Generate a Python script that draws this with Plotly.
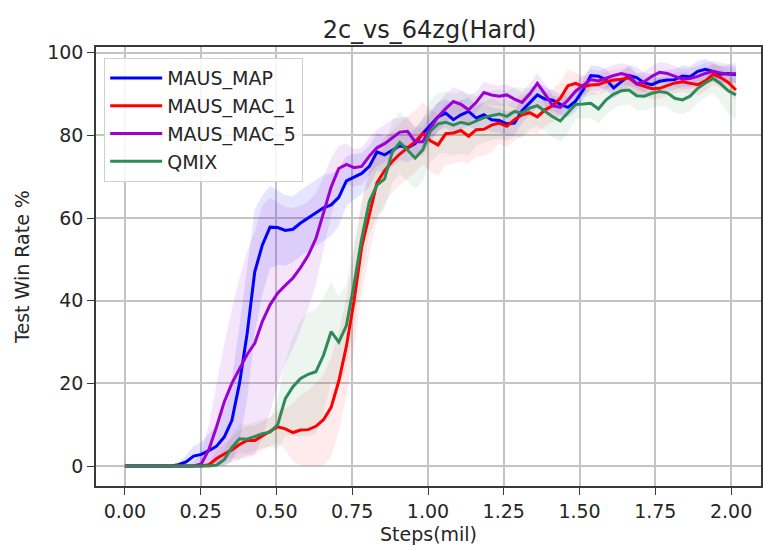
import plotly.graph_objects as go

# x grid (million steps)
steps = [round(i * 0.0252, 4) for i in range(81)]

maus_map = [0, 0, 0, 0, 0, 0, 0, 0.3, 1.0, 2.4, 2.8, 3.7, 4.8, 7, 11, 20, 32, 47, 53.5, 57.8,
            57.7, 57, 57.3, 58.8, 60, 61.2, 62.5, 63.2, 65, 69, 70, 70.8, 72.5, 76, 75.3, 76.5, 77.5, 77, 78, 80.5,
            82.5, 84.5, 85.4, 83.8, 85, 85.8, 84.2, 85, 83.8, 83.6, 82.8, 83, 86, 88, 89.8, 88.8, 88.5, 87.5, 86.8, 88.3,
            91, 94.5, 94.3, 93.5, 91.5, 93, 94.5, 94, 92.7, 92.3, 93.1, 93.4, 93.5, 94.4, 94.2, 95.5, 96, 95.5, 94.8, 95,
            94.7]
maus_map_sd = [0, 0, 0, 0, 0, 0, 0, 0.5, 1.5, 2.5, 3, 4, 5, 7, 10, 14, 16, 15, 12, 10,
               9, 8.5, 8, 8, 8, 8, 8, 7.5, 7, 6, 5.5, 5, 5, 4.5, 4.5, 4, 3.5, 3.5, 3.5, 3.5,
               3.5, 3.5, 3.5, 3.5, 3.5, 3.5, 3, 3, 3, 3, 3, 3, 3, 3, 3, 3, 2.5, 2.5, 2.5, 2.5,
               2.5, 2.5, 2.5, 2.5, 2.5, 2.5, 2.5, 2.5, 2.5, 2.5, 2.5, 2.5, 2.5, 2.5, 2.5, 2.5, 2.5, 2, 2, 2,
               2]

maus_mac_1 = [0, 0, 0, 0, 0, 0, 0, 0, 0, 0, 0, 0.3, 1.8, 2.9, 3.9, 5.2, 6.2, 6.2, 7.3, 8.3,
              9.5, 9, 8.1, 8.7, 8.8, 9.6, 11.2, 14.2, 20.5, 29, 40, 53, 61, 68.5, 71.5, 73.7, 75.5, 77, 78.5, 80.5,
              78.7, 77.7, 80.4, 80.6, 81.2, 79.8, 81.4, 81.5, 82.5, 83, 82.2, 83.8, 85, 85.5, 84.5, 86.2, 87.2, 89, 92, 92.6,
              91.8, 92.2, 92.3, 93, 93.4, 93.6, 93.9, 92.5, 91.9, 91.3, 91.4, 92, 92.7, 93, 92.7, 92.3, 93.2, 94.8, 94, 92.8,
              91]
maus_mac_1_sd = [0, 0, 0, 0, 0, 0, 0, 0, 0, 0, 0, 0.5, 2, 2.5, 3, 3.5, 3.5, 3.5, 3.5, 3.5,
                 4, 5, 7, 8.5, 9.5, 10.5, 11, 12, 12, 12, 12, 11, 10, 9, 8, 7.5, 7.5, 7.5, 7.5, 7.5,
                 7.5, 7.5, 7.5, 7.5, 7.5, 6.5, 6.5, 6.5, 6.5, 5, 5, 5, 5, 5, 4, 4, 4, 4, 4, 2.5,
                 2.5, 2.5, 2.5, 2.5, 2.5, 2.5, 2.5, 2.5, 2.5, 2.5, 2.5, 2.5, 2.5, 2.5, 2.5, 2.5, 2.5, 2.5, 2.5, 2.5,
                 2.5]

maus_mac_5 = [0, 0, 0, 0, 0, 0, 0, 0, 0, 0, 0.5, 4, 9.5, 15.5, 20, 23.5, 27, 29.7, 35, 39,
              41.8, 43.7, 45.5, 48, 51, 55, 61, 67.5, 72, 73, 72.2, 72.5, 75, 77, 78, 79.5, 80.8, 81, 78.5, 78.5,
              81.8, 84.5, 86.5, 88.2, 87.5, 86.2, 88, 90.4, 89.8, 89.5, 89.8, 88.8, 88, 90, 92.6, 90, 87.2, 86.8, 88.5, 90.7,
              92, 93.5, 93.2, 93.9, 94.5, 95, 94.5, 92.5, 93, 94.3, 95.3, 95, 94.3, 93.6, 93.8, 94.3, 95, 95.5, 95.1, 94.8,
              95]
maus_mac_5_sd = [0, 0, 0, 0, 0, 0, 0, 0, 0, 1, 3, 6, 10, 14, 18, 22, 25, 27, 28, 26,
                 22, 19, 17, 15, 13, 11, 9, 7, 5.5, 5, 4.5, 4.5, 4.5, 4.5, 4.5, 4.5, 3.5, 3.5, 3.5, 3.5,
                 3.5, 3.5, 3.5, 3.5, 3.5, 3.5, 2.5, 2.5, 2.5, 2.5, 2.5, 2.5, 2.5, 2.5, 2.5, 2.5, 2.5, 2.5, 2.5, 2.5,
                 2.5, 2.5, 2.5, 2.5, 2.5, 2.5, 2.5, 2.5, 2.5, 2.5, 2.5, 2.5, 2.5, 2.5, 2.5, 2.5, 2.5, 2.5, 2.5, 2.5,
                 2.5]

qmix = [0, 0, 0, 0, 0, 0, 0, 0, 0, 0, 0, 0, 0.2, 1.5, 4.5, 6.6, 6.5, 7.2, 7.8, 8.2,
        10, 16.3, 19.2, 21.2, 22.2, 22.8, 26.8, 32.5, 30, 34, 44, 55, 64, 68, 69.5, 76, 78.3, 76.5, 74.5, 76.5,
        81, 82.8, 83.2, 82.5, 83.2, 82.7, 83.5, 84.3, 84.8, 85.2, 84.6, 85.8, 85.4, 86.6, 87.2, 85.8, 84.5, 83.5, 85.6, 87.5,
        87.6, 87.8, 86.4, 88.6, 90, 90.8, 91, 89.6, 89.5, 90.2, 90.6, 90.3, 89, 88.6, 89.5, 91.4, 92.7, 93.8, 92.5, 90.8,
        89.8]
qmix_sd = [0, 0, 0, 0, 0, 0, 0, 0, 0, 0, 0, 0, 1, 2.5, 3, 3.5, 3.5, 3.5, 3.5, 3.5,
           6, 9, 12, 14, 15, 15, 14, 12, 11, 10, 10, 9, 8, 7.5, 7.5, 7.5, 7.5, 7.5, 7.5, 7.5,
           7.5, 7.5, 7.5, 7.5, 7.5, 7.5, 6, 6, 6, 6, 6, 6, 6, 5, 5, 5, 5, 5, 5, 3.5,
           3.5, 3.5, 3.5, 3.5, 3.5, 3.5, 3.5, 3.5, 3.5, 3.5, 3.5, 3.5, 3.5, 3.5, 3.5, 3.5, 3.5, 3.5, 4.5, 5.5,
           6]

series_names = ["MAUS_MAP", "MAUS_MAC_1", "MAUS_MAC_5", "QMIX"]
series_means = [maus_map, maus_mac_1, maus_mac_5, qmix]
series_sds = [maus_map_sd, maus_mac_1_sd, maus_mac_5_sd, qmix_sd]
line_colors = ["#0000ff", "#ff0000", "#9d00d2", "#2e8b57"]
band_colors = ["rgba(0,0,255,0.10)", "rgba(255,0,0,0.08)", "rgba(157,0,210,0.10)", "rgba(46,139,87,0.09)"]

for arr in series_means + series_sds:
    assert len(arr) == len(steps), len(arr)

FONT = "DejaVu Sans"
fig = go.Figure()

# shaded bands
for name, m, s, bc in zip(series_names, series_means, series_sds, band_colors):
    upper = [a + b for a, b in zip(m, s)]
    lower = [max(a - b, 0) for a, b in zip(m, s)]
    fig.add_trace(go.Scatter(x=steps, y=upper, mode="lines", line=dict(width=0),
                             showlegend=False, hoverinfo="skip"))
    fig.add_trace(go.Scatter(x=steps, y=lower, mode="lines", line=dict(width=0),
                             fill="tonexty", fillcolor=bc, showlegend=False, hoverinfo="skip"))

# mean lines
for name, m, lc in zip(series_names, series_means, line_colors):
    fig.add_trace(go.Scatter(x=steps, y=m, mode="lines", name=name, legendgroup=name,
                             line=dict(color=lc, width=3)))

axis_common = dict(
    showgrid=True, gridcolor="#c4c4c4", gridwidth=1.6,
    zeroline=False, showline=True, linecolor="#3a3a3a", linewidth=1.6,
    ticks="outside", ticklen=7, tickwidth=1.4, tickcolor="#3a3a3a",
    tickfont=dict(family=FONT, size=19, color="#262626"),
    mirror=True,
)

fig.update_layout(
    width=763, height=546,
    margin=dict(l=96, r=0, t=47, b=60),
    paper_bgcolor="white", plot_bgcolor="white",
    font=dict(family=FONT, size=19, color="#262626"),
    title=dict(text="2c_vs_64zg(Hard)", x=(96 + 763) / 2 / 763, xanchor="center",
               y=1 - 30 / 546, yanchor="middle", yref="container",
               font=dict(family=FONT, size=24, color="#262626")),
    xaxis=dict(axis_common, range=[-0.0954, 2.0987], tickmode="array",
               tickvals=[0, 0.25, 0.5, 0.75, 1.0, 1.25, 1.5, 1.75, 2.0],
               ticktext=["0.00", "0.25", "0.50", "0.75", "1.00", "1.25", "1.50", "1.75", "2.00"],
               title=dict(text="Steps(mil)", standoff=7, font=dict(family=FONT, size=19))),
    yaxis=dict(axis_common, range=[-4.84, 101.4], tickmode="array",
               tickvals=[0, 20, 40, 60, 80, 100],
               title=dict(text="Test Win Rate %", standoff=12, font=dict(family=FONT, size=19))),
    legend=dict(x=0.012, y=0.975, xanchor="left", yanchor="top",
                traceorder="normal", tracegroupgap=2, itemwidth=52,
                bgcolor="rgba(255,255,255,0.85)", bordercolor="#d0d0d0", borderwidth=1.2,
                font=dict(family=FONT, size=19, color="#262626")),
    showlegend=True,
)

fig.write_html("out.html")
